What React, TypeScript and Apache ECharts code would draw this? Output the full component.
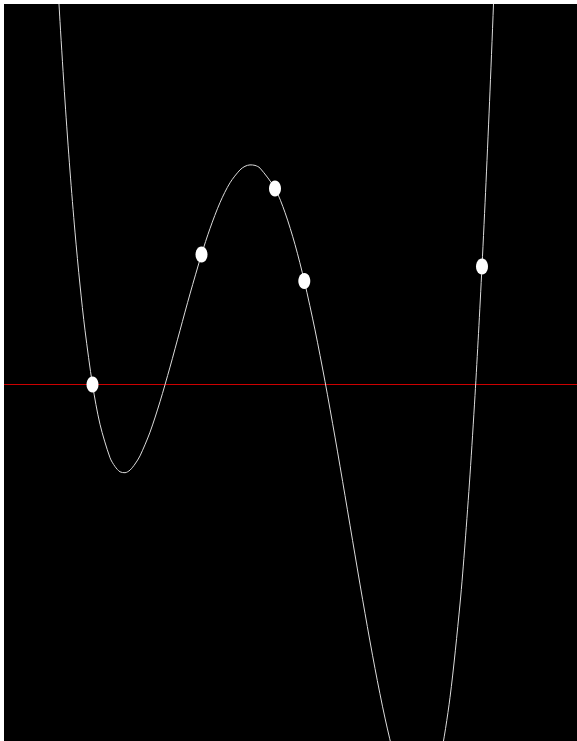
import React, { useEffect, useRef } from "react";
import * as echarts from "echarts";

// Control points the polynomial passes through
const pointX = [92.5, 201.5, 275, 304.3, 482];
const pointY = [0, 130, 196, 103.5, 118];

// Sampled curve (x, y)
const curveX = [
  55, 60, 65, 70, 75, 80, 85, 92.5, 100, 110, 115, 120, 125, 130, 135, 140,
  150, 160, 170, 180, 190, 201.5, 210, 220, 230, 240, 245, 250, 255, 260,
  275, 285, 295, 304.3, 315, 325, 335, 345, 355, 365, 375, 385, 395, 405,
  417, 430, 440, 450, 460, 465, 470, 475, 478.5, 482, 486, 490, 494, 497,
];
const curveY = [
  452.4, 363.0, 283.5, 213.5, 152.4, 99.5, 54.3, 0, -39.8, -73.2, -82.0,
  -87.3, -88.2, -85.6, -79.5, -71.4, -47.7, -17.2, 17.4, 54.1, 90.6, 130,
  156.0, 181.9, 201.7, 214.6, 218.2, 219.6, 219.1, 216.4, 196, 172.0, 140.0,
  103.5, 54.6, 3.1, -52.6, -111.0, -170.4, -228.8, -284.0, -333.6, -374.9,
  -405.0, -422.0, -410.3, -375.2, -313.0, -219.5, -159.4, -90.4, -11.1, 51.0,
  118, 201.9, 293.4, 393.0, 473.3,
];

// Visible window
const xRange = [4, 577];
const yRange = [-356.5, 380.5];

export default function App() {
  const ref = useRef<HTMLDivElement>(null);

  useEffect(() => {
    if (!ref.current) return;
    const chart = echarts.init(ref.current, undefined, { renderer: "svg" });
    chart.setOption({
      animation: false,
      backgroundColor: "#000",
      grid: { left: 0, right: 0, top: 0, bottom: 0 },
      xAxis: {
        type: "value",
        min: xRange[0],
        max: xRange[1],
        axisLine: { show: true, onZero: true, lineStyle: { color: "#cc0000", width: 1 } },
        axisTick: { show: false },
        axisLabel: { show: false },
        splitLine: { show: false },
      },
      yAxis: {
        type: "value",
        min: yRange[0],
        max: yRange[1],
        axisLine: { show: false },
        axisTick: { show: false },
        axisLabel: { show: false },
        splitLine: { show: false },
      },
      series: [
        {
          type: "line",
          data: curveX.map((x, i) => [x, curveY[i]]),
          smooth: 0.3,
          showSymbol: false,
          clip: true,
          lineStyle: { color: "#dcdcdc", width: 1 },
          z: 2,
        },
        {
          type: "scatter",
          data: pointX.map((x, i) => [x, pointY[i]]),
          symbol: "circle",
          symbolSize: [12, 16],
          itemStyle: { color: "#fff", opacity: 1 },
          z: 3,
        },
      ],
    });
    return () => chart.dispose();
  }, []);

  return (
    <div
      ref={ref}
      style={{ position: "fixed", left: 4, top: 4, width: 573, height: 737 }}
    />
  );
}
